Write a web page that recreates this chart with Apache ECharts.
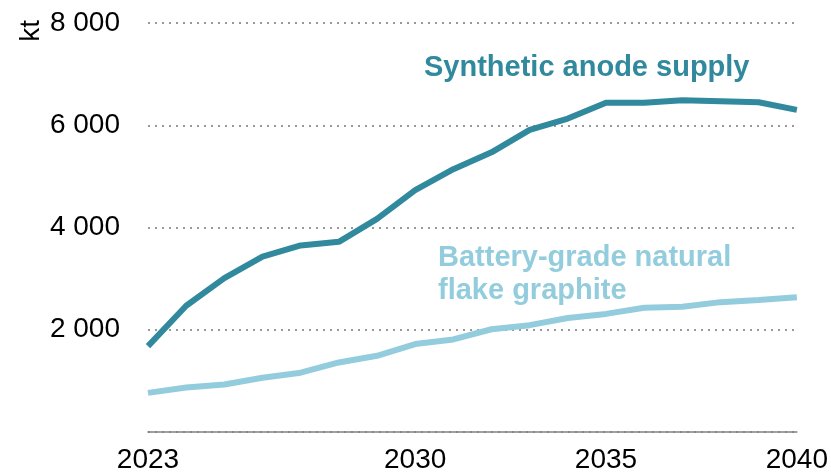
<!DOCTYPE html>
<html>
<head>
<meta charset="utf-8">
<script src="https://cdn.jsdelivr.net/npm/echarts@6/dist/echarts.min.js"></script>
<style>
html,body{margin:0;padding:0;background:#fff;}
#chart{width:831px;height:474px;}
</style>
</head>
<body>
<div id="chart"></div>
<script>
var years = ['2023','2024','2025','2026','2027','2028','2029','2030','2031','2032','2033','2034','2035','2036','2037','2038','2039','2040'];
var shownYears = ['2023','2030','2035','2040'];
var syntheticAnode = [1680, 2470, 3010, 3430, 3650, 3720, 4170, 4730, 5140, 5470, 5910, 6130, 6440, 6440, 6490, 6470, 6450, 6300];
var naturalFlake = [765, 870, 930, 1060, 1160, 1360, 1490, 1720, 1810, 2010, 2090, 2230, 2310, 2430, 2450, 2540, 2580, 2635];
var yTicks = [0, 2000, 4000, 6000, 8000];
var labelSynthetic = 'Synthetic anode supply';
var labelNatural = 'Battery-grade natural\nflake graphite';
var unitLabel = 'kt';

var FONT = '"Liberation Sans", Arial, sans-serif';
var C_SYN = '#31899D';
var C_NAT = '#93CDDD';

var chart = echarts.init(document.getElementById('chart'), null, {renderer: 'canvas'});
chart.setOption({
  animation: false,
  grid: {left: 148, right: 34, top: 23, bottom: 39, containLabel: false},
  xAxis: {
    type: 'category',
    data: years,
    boundaryGap: false,
    axisLine: {show: true, lineStyle: {color: '#808080', width: 1.5}},
    axisTick: {show: false},
    splitLine: {show: false},
    axisLabel: {
      interval: function (i, v) { return shownYears.indexOf(v) >= 0; },
      color: '#000', fontFamily: FONT, fontSize: 28, margin: 14
    }
  },
  yAxis: {
    type: 'value',
    min: yTicks[0], max: yTicks[yTicks.length - 1], interval: 2000,
    axisLine: {show: false},
    axisTick: {show: false},
    splitLine: {show: true, lineStyle: {color: '#999', type: [2, 5], width: 2}},
    axisLabel: {
      color: '#000', fontFamily: FONT, fontSize: 28, margin: 28,
      formatter: function (v) { return v === 0 ? '' : String(v).replace(/\B(?=(\d{3})+(?!\d))/g, ' '); }
    }
  },
  series: [
    {
      name: labelSynthetic, type: 'line', data: syntheticAnode, symbol: 'none',
      lineStyle: {color: C_SYN, width: 6}, z: 3
    },
    {
      name: labelNatural, type: 'line', data: naturalFlake, symbol: 'none',
      lineStyle: {color: C_NAT, width: 6}, z: 2
    }
  ],
  graphic: [
    {type: 'text', left: 424, top: 53, silent: true,
     style: {text: labelSynthetic, fill: C_SYN, font: 'bold 29px ' + FONT}},
    {type: 'text', left: 438, top: 241, silent: true,
     style: {text: labelNatural, fill: C_NAT, font: 'bold 29px ' + FONT, lineHeight: 33}},
    {type: 'text', left: 17, top: 20, rotation: Math.PI / 2, silent: true,
     style: {text: unitLabel, fill: '#000', font: '28px ' + FONT}}
  ]
});
</script>
</body>
</html>
